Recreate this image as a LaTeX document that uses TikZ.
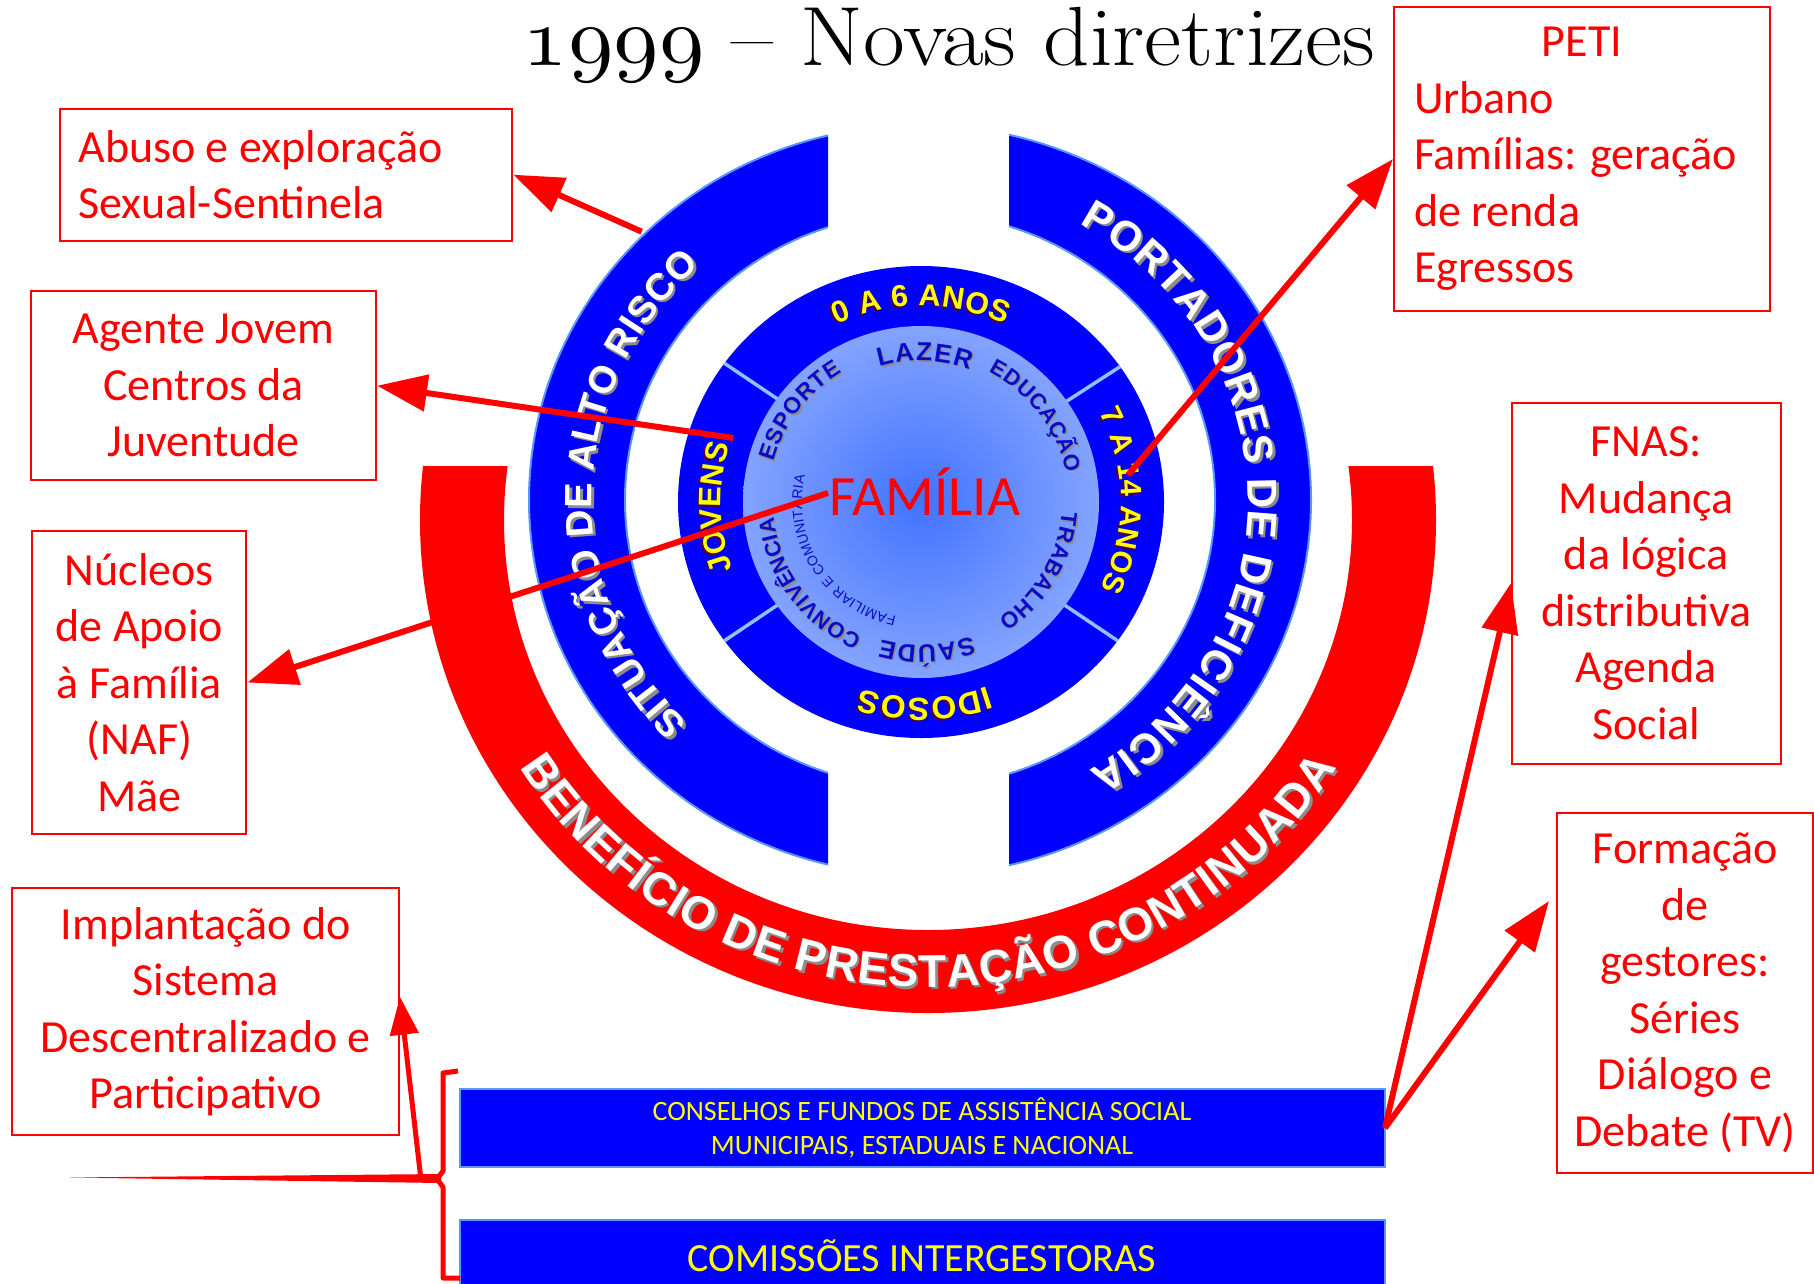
\documentclass[tikz,border=0pt]{standalone}
\usepackage{graphicx}
\usepackage{fontspec}
\newfontfamily\calfont{Carlito}
\newfontfamily\arfont{Liberation Sans}
\usetikzlibrary{decorations.text,arrows.meta}
\definecolor{pblue}{RGB}{0,0,255}
\definecolor{pred}{RGB}{255,0,0}
\definecolor{pyel}{RGB}{255,255,0}
\definecolor{edgeblue}{RGB}{90,150,255}
\definecolor{divblue}{RGB}{140,195,255}
\definecolor{dcen}{RGB}{65,115,255}
\definecolor{dedge}{RGB}{198,212,255}
\definecolor{txtblue}{RGB}{10,10,200}
\definecolor{shgrey}{RGB}{140,140,140}
\definecolor{shdark}{RGB}{80,0,50}
\pgfdeclareradialshading{famshade}{\pgfpoint{0bp}{0bp}}{color(0bp)=(dcen); color(50bp)=(dedge)}
\newcommand\boxfont{\calfont\fontsize{46}{56.5}\selectfont}
% #1 centre, #2 start, #3 end, #4 x radius, #5 y radius, #6 font, #7 colour, #8 text
\newcommand\arctxt[8]{%
  \path[decorate,decoration={text along path,text align={fit to path},text={|#6\color{#7}|#8}}]
    (#1) ++(#2:#4 and #5) arc[start angle=#2,end angle=#3,x radius=#4,y radius=#5];}
\tikzset{
  box/.style={draw=pred,line width=2pt,text=pred,font=\boxfont,inner sep=0pt,align=center},
  bar/.style={fill=pblue,draw=edgeblue,line width=2pt,text=pyel,align=center,inner sep=0pt},
  arr/.style={pred,line width=6pt,-{Triangle[length=50pt,width=36pt]}},
}
\begin{document}
\begin{tikzpicture}[x=1pt,y=1pt]
\useasboundingbox (0,0) rectangle (1814,-1283);
\fill[white] (0,0) rectangle (1814,-1283);
\coordinate (C) at (920,-500);
\coordinate (D) at (921,-502);
\coordinate (R) at (928,-520);

% title
\node[anchor=base,inner sep=0pt] (title) at (949,-65)
  {\scalebox{1.08}[1]{\fontsize{84}{84}\selectfont\addfontfeature{FakeBold=1.2}%
   \scalebox{8.4}{\fontsize{10}{10}\usefont{OML}{lmm}{m}{it}1999} – Novas diretrizes}};

% red band
\begin{scope}
\clip (0,-466) rectangle (1814,-1283);
\fill[pred,even odd rule] (R) ellipse[x radius=508pt,y radius=493pt] (R) ellipse[x radius=424pt,y radius=410pt];
\end{scope}

% blue C pieces
\begin{scope}
\clip (0,0) rectangle (828,-1283);
\fill[pblue,even odd rule] (C) ellipse[x radius=391pt,y radius=375pt] (C) ellipse[x radius=295pt,y radius=287pt];
\draw[edgeblue,line width=2pt] (C) ellipse[x radius=391pt,y radius=375pt] (C) ellipse[x radius=295pt,y radius=287pt];
\end{scope}
\begin{scope}
\clip (1009,0) rectangle (1814,-1283);
\fill[pblue,even odd rule] (C) ellipse[x radius=391pt,y radius=375pt] (C) ellipse[x radius=295pt,y radius=287pt];
\draw[edgeblue,line width=2pt] (C) ellipse[x radius=391pt,y radius=375pt] (C) ellipse[x radius=295pt,y radius=287pt];
\end{scope}

% inner disks
\fill[pblue] (D) ellipse[x radius=243pt,y radius=236pt];
\foreach \a in {35,144,216,324}
  \draw[divblue,line width=3.5pt] ([shift={(\a:176pt and 174pt)}]D) -- ([shift={(\a:243pt and 236pt)}]D);
\shade[shading=famshade] (D) ellipse[x radius=178pt,y radius=176pt];

% outer ring texts
\arctxt{[shift={(2.5pt,-2.5pt)}]C}{225}{132}{328pt}{316pt}{\arfont\bfseries\fontsize{38}{38}\selectfont}{shgrey}{SITUAÇÃO DE ALTO RISCO}
\arctxt{C}{225}{132}{328pt}{316pt}{\arfont\bfseries\fontsize{38}{38}\selectfont}{white}{SITUAÇÃO DE ALTO RISCO}
\arctxt{[shift={(2.5pt,-2.5pt)}]C}{61}{-59}{328pt}{316pt}{\arfont\bfseries\fontsize{42}{42}\selectfont}{shgrey}{PORTADORES DE DEFICIÊNCIA}
\arctxt{C}{61}{-59}{328pt}{316pt}{\arfont\bfseries\fontsize{42}{42}\selectfont}{white}{PORTADORES DE DEFICIÊNCIA}
\arctxt{[shift={(2.5pt,-2.5pt)}]R}{212}{328}{482pt}{467pt}{\arfont\bfseries\fontsize{46}{46}\selectfont}{shgrey}{BENEFÍCIO DE PRESTAÇÃO CONTINUADA}
\arctxt{R}{212}{328}{482pt}{467pt}{\arfont\bfseries\fontsize{46}{46}\selectfont}{white}{BENEFÍCIO DE PRESTAÇÃO CONTINUADA}

% ring texts (yellow)
\arctxt{[shift={(-1.5pt,-1.5pt)}]D}{115}{65}{200pt}{196pt}{\arfont\bfseries\fontsize{30.5}{30.5}\selectfont}{shdark}{0 A 6 ANOS}
\arctxt{D}{115}{65}{200pt}{196pt}{\arfont\bfseries\fontsize{30.5}{30.5}\selectfont}{pyel}{0 A 6 ANOS}
\arctxt{[shift={(-1.5pt,-1.5pt)}]D}{27}{-26}{200pt}{196pt}{\arfont\bfseries\fontsize{29.5}{29.5}\selectfont}{shdark}{7 A 14 ANOS}
\arctxt{D}{27}{-26}{200pt}{196pt}{\arfont\bfseries\fontsize{29.5}{29.5}\selectfont}{pyel}{7 A 14 ANOS}
\arctxt{[shift={(-1.5pt,-1.5pt)}]D}{-70.5}{-107.5}{200pt}{196pt}{\arfont\bfseries\fontsize{32}{32}\selectfont}{shdark}{IDOSOS}
\arctxt{D}{-70.5}{-107.5}{200pt}{196pt}{\arfont\bfseries\fontsize{32}{32}\selectfont}{pyel}{IDOSOS}
\arctxt{[shift={(-1.5pt,-1.5pt)}]D}{200}{163}{200pt}{196pt}{\arfont\bfseries\fontsize{31}{31}\selectfont}{shdark}{JOVENS}
\arctxt{D}{200}{163}{200pt}{196pt}{\arfont\bfseries\fontsize{31}{31}\selectfont}{pyel}{JOVENS}

% disk texts (blue)
\arctxt{[shift={(1.5pt,-1.5pt)}]D}{107}{70}{143pt}{141pt}{\arfont\bfseries\fontsize{26}{26}\selectfont}{shgrey}{LAZER}
\arctxt{D}{107}{70}{143pt}{141pt}{\arfont\bfseries\fontsize{26}{26}\selectfont}{txtblue}{LAZER}
\arctxt{[shift={(1.5pt,-1.5pt)}]D}{63}{11.5}{148pt}{146pt}{\arfont\bfseries\fontsize{22}{22}\selectfont}{shgrey}{EDUCAÇÃO}
\arctxt{D}{63}{11.5}{148pt}{146pt}{\arfont\bfseries\fontsize{22}{22}\selectfont}{txtblue}{EDUCAÇÃO}
\arctxt{[shift={(1.5pt,-1.5pt)}]D}{-4}{-57}{141pt}{139pt}{\arfont\bfseries\fontsize{22.5}{22.5}\selectfont}{shgrey}{TRABALHO}
\arctxt{D}{-4}{-57}{141pt}{139pt}{\arfont\bfseries\fontsize{22.5}{22.5}\selectfont}{txtblue}{TRABALHO}
\arctxt{[shift={(1.5pt,-1.5pt)}]D}{-69.5}{-106}{145pt}{143pt}{\arfont\bfseries\fontsize{25}{25}\selectfont}{shgrey}{SAÚDE}
\arctxt{D}{-69.5}{-106}{145pt}{143pt}{\arfont\bfseries\fontsize{25}{25}\selectfont}{txtblue}{SAÚDE}
\arctxt{[shift={(1.5pt,-1.5pt)}]D}{246.5}{186}{148pt}{146pt}{\arfont\bfseries\fontsize{22}{22}\selectfont}{shgrey}{CONVIVÊNCIA}
\arctxt{D}{246.5}{186}{148pt}{146pt}{\arfont\bfseries\fontsize{22}{22}\selectfont}{txtblue}{CONVIVÊNCIA}
\arctxt{[shift={(1.5pt,-1.5pt)}]D}{164.5}{121}{153pt}{151pt}{\arfont\bfseries\fontsize{23}{23}\selectfont}{shgrey}{ESPORTE}
\arctxt{D}{164.5}{121}{153pt}{151pt}{\arfont\bfseries\fontsize{23}{23}\selectfont}{txtblue}{ESPORTE}
\arctxt{D}{258}{167}{119pt}{117pt}{\arfont\fontsize{14}{14}\selectfont}{txtblue}{FAMILIAR E COMUNITÁRIA}

% centre label
\node[font=\calfont\fontsize{57}{57}\selectfont,text=pred,anchor=base,inner sep=0pt] (fam) at (925,-515) {FAMÍLIA};

% boxes
\node[box,text width=416pt,inner xsep=18pt,minimum height=132pt,align=flush left] (abuso) at (286.4,-174.7) {Abuso e exploração\\Sexual-Sentinela};
\node[box,minimum width=345pt,minimum height=188.5pt] (agente) at (203.6,-385.7) {Agente Jovem\\Centros da\\Juventude};
\node[box,minimum width=214pt,minimum height=303pt] (nucleos) at (139.4,-682.5) {Núcleos\\de Apoio\\à Família\\(NAF)\\Mãe};
\node[box,minimum width=386.5pt,minimum height=247.5pt] (impl) at (205.7,-1011.7) {Implantação do\\Sistema\\Descentralizado e\\Participativo};
\node[box,text width=336pt,inner xsep=20pt,minimum height=304pt,align=flush left] (peti) at (1582,-159) {\makebox[336pt]{PETI}\\Urbano\\Famílias: geração\\de renda\\Egressos};
\node[box,minimum width=268.5pt,minimum height=361pt] (fnas) at (1646.3,-583) {FNAS:\\Mudança\\da lógica\\distributiva\\Agenda\\Social};
\node[box,minimum width=256pt,minimum height=360pt] (form) at (1685,-993) {Formação\\de\\gestores:\\Séries\\Diálogo e\\Debate (TV)};

% bottom bars
\node[bar,minimum width=925pt,minimum height=77.5pt,font=\calfont\fontsize{28}{33.5}\selectfont] (cons) at (922,-1128) {CONSELHOS E FUNDOS DE ASSISTÊNCIA SOCIAL\\MUNICIPAIS, ESTADUAIS E NACIONAL};
\node[bar,minimum width=925pt,minimum height=72pt,font=\calfont\fontsize{40}{40}\selectfont] (com) at (922,-1256) {COMISSÕES INTERGESTORAS};

% bracket and tapered line
\draw[pred,line width=5pt,line join=round] (458,-1071) -- (443,-1073) -- (443,-1171) -- (437,-1179) -- (443,-1187) -- (443,-1278) -- (460,-1278);
\fill[pred] (69,-1177.5) -- (441,-1174) -- (441,-1183) -- cycle;

% connectors
\coordinate (s1) at (641.7,-231.7);
\coordinate (s2) at (733.3,-438);
\coordinate (s3) at (828,-493);
\coordinate (s4) at (1128,-475);
\coordinate (s5) at (1385,-1128);
\coordinate (s6) at (421,-1180);
\coordinate (t7) at (1549,-901);
\draw[arr] (s1) -- (abuso.east);
\draw[arr] (s2) -- (agente.east);
\draw[arr] (s3) -- (nucleos.east);
\draw[arr] (s4) -- (peti.west);
\draw[arr] (s5) -- (fnas.west);
\draw[arr] (s5) -- (t7);
\draw[pred,line width=5pt,-{Triangle[length=38pt,width=28pt]}] (s6) -- ([yshift=15pt]impl.east);
\end{tikzpicture}
\end{document}
